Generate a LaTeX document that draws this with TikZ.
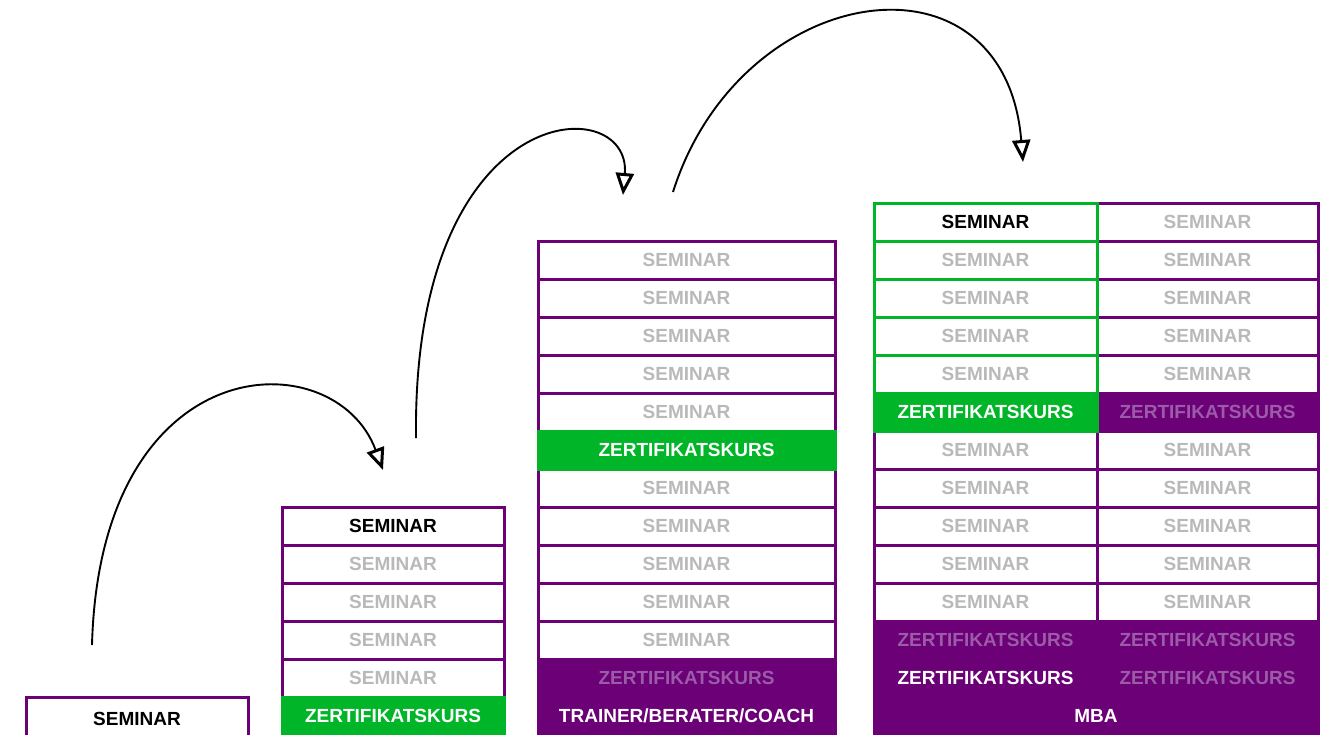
\documentclass[tikz,border=0pt]{standalone}
\usepackage{fontspec}
\setmainfont{Liberation Sans}
\usetikzlibrary{arrows.meta}
\definecolor{kurslila}{HTML}{6B0077}
\definecolor{kursgruen}{HTML}{00B628}
\definecolor{kursgrau}{HTML}{B9B9B9}
\definecolor{blasslila}{HTML}{9C5BA9}
\tikzset{
  cell/.style={draw=kurslila, line width=3pt, fill=white, minimum height=38pt,
    inner sep=0pt, font=\bfseries\fontsize{19}{19}\selectfont, text=kursgrau},
  aktiv/.style={cell, text=black},
  gcell/.style={cell, draw=kursgruen},
  gfull/.style={cell, fill=kursgruen, draw=kursgruen, text=white},
  lfull/.style={cell, fill=kurslila, text=white},
  lblass/.style={cell, fill=kurslila, text=blasslila},
  jump/.style={line width=1.9pt, -{Triangle[open, length=22pt, width=18pt, line width=3pt]}}
}
\begin{document}
\begin{tikzpicture}[x=1pt, y=-1pt]
  \useasboundingbox (0,0) rectangle (1328,734);
  \clip (0,0) rectangle (1328,734);
  % Stufe 1
  \node[aktiv, minimum width=222pt, minimum height=44pt] (s1) at (137,719) {SEMINAR};
  % Stufe 2
  \node[aktiv, minimum width=222pt] (s2r1) at (393,526) {SEMINAR};
  \foreach \r in {2,...,5}
    \node[cell, minimum width=222pt] (s2r\r) at (393,488+38*\r) {SEMINAR};
  \node[gfull, minimum width=222pt] (s2r6) at (393,716) {ZERTIFIKATSKURS};
  % Stufe 3
  \foreach \r in {1,...,5,7,8,...,11}
    \node[cell, minimum width=297pt] (s3r\r) at (686.5,222+38*\r) {SEMINAR};
  \node[gfull, minimum width=297pt] (s3r6) at (686.5,450) {ZERTIFIKATSKURS};
  \node[lblass, minimum width=297pt] (s3r12) at (686.5,678) {ZERTIFIKATSKURS};
  \node[lfull, minimum width=297pt] (s3r13) at (686.5,716) {TRAINER/BERATER/COACH};
  % Stufe 4, rechts
  \foreach \r in {1,...,5,7,8,...,11}
    \node[cell, minimum width=221pt] (s4b\r) at (1207.5,184+38*\r) {SEMINAR};
  \foreach \r in {6,12,13}
    \node[lblass, minimum width=221pt] (s4b\r) at (1207.5,184+38*\r) {ZERTIFIKATSKURS};
  % Stufe 4, links
  \foreach \r in {7,...,11}
    \node[cell, minimum width=223pt] (s4a\r) at (985.5,184+38*\r) {SEMINAR};
  \node[lblass, minimum width=223pt] (s4a12) at (985.5,640) {ZERTIFIKATSKURS};
  \node[lfull, minimum width=223pt] (s4a13) at (985.5,678) {ZERTIFIKATSKURS};
  \node[lfull, minimum width=444pt] (mba) at (1096,716) {MBA};
  \node[gcell, text=black, minimum width=223pt] (s4a1) at (985.5,222) {SEMINAR};
  \foreach \r in {2,...,5}
    \node[gcell, minimum width=223pt] (s4a\r) at (985.5,184+38*\r) {SEMINAR};
  \node[gfull, minimum width=223pt] (s4a6) at (985.5,412) {ZERTIFIKATSKURS};
  % Spruenge
  \coordinate (j1s) at (92,645);
  \coordinate (j1e) at (383,470);
  \coordinate (j2s) at (416,438);
  \coordinate (j2e) at (623,195);
  \coordinate (j3s) at (673,192);
  \coordinate (j3e) at (1023,162);
  \draw[jump] (j1s) .. controls (100,345) and (335,340) .. (j1e);
  \draw[jump] (j2s) .. controls (412,95) and (632,90) .. (j2e);
  \draw[jump] (j3s) .. controls (740,-20) and (1005,-60) .. (j3e);
\end{tikzpicture}
\end{document}
